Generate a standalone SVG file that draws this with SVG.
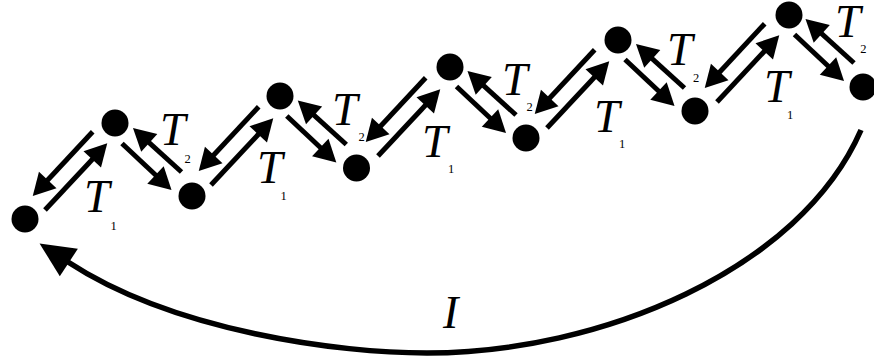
<svg xmlns="http://www.w3.org/2000/svg" width="874" height="358" viewBox="0 0 874 358">
<style>
.node{fill:#000}
.arr{stroke:#000;stroke-width:5;fill:none;marker-end:url(#h)}
.big{stroke:#000;stroke-width:5.5;fill:none;marker-end:url(#hb)}
.T{font-family:"Liberation Serif",serif;font-style:italic;font-size:46px;fill:#000}
.sub{font-family:"Liberation Serif",serif;font-size:12.5px;fill:#000;text-anchor:middle}
</style>
<defs>
<marker id="h" markerUnits="userSpaceOnUse" markerWidth="22" markerHeight="24" refX="14" refY="12" orient="auto" overflow="visible"><path d="M0,0 L22,12 L0,24 z" fill="#000"/></marker>
<marker id="hb" markerUnits="userSpaceOnUse" markerWidth="35" markerHeight="33" refX="1" refY="16.5" orient="auto" overflow="visible"><path d="M0,0 L35,16.5 L0,33 z" fill="#000"/></marker>
</defs>
<rect width="874" height="358" fill="#fff"/>
<g id="connectors">
<g transform="translate(70,171)"><path class="arr" d="M-25,39 L31.8,-21.8"/><path class="arr" d="M22.7,-39.3 L-31.8,19.2"/></g>
<g transform="translate(236,146)"><path class="arr" d="M-25,39 L31.8,-21.8"/><path class="arr" d="M22.7,-39.3 L-31.8,19.2"/></g>
<g transform="translate(403,117)"><path class="arr" d="M-25,39 L31.8,-21.8"/><path class="arr" d="M22.7,-39.3 L-31.8,19.2"/></g>
<g transform="translate(572,89)"><path class="arr" d="M-25,39 L31.8,-21.8"/><path class="arr" d="M22.7,-39.3 L-31.8,19.2"/></g>
<g transform="translate(742,63)"><path class="arr" d="M-25,39 L31.8,-21.8"/><path class="arr" d="M22.7,-39.3 L-31.8,19.2"/></g>
<g transform="translate(153.5,159.5)"><path class="arr" d="M-31.5,-16 L12.2,25"/><path class="arr" d="M28,12.5 L-14.6,-26.1"/></g>
<g transform="translate(318.3,132)"><path class="arr" d="M-31.5,-16 L12.2,25"/><path class="arr" d="M28,12.5 L-14.6,-26.1"/></g>
<g transform="translate(488,102.5)"><path class="arr" d="M-31.5,-16 L12.2,25"/><path class="arr" d="M28,12.5 L-14.6,-26.1"/></g>
<g transform="translate(656.5,75.5)"><path class="arr" d="M-31.5,-16 L12.2,25"/><path class="arr" d="M28,12.5 L-14.6,-26.1"/></g>
<g transform="translate(826,50.5)"><path class="arr" d="M-31.5,-16 L12.2,25"/><path class="arr" d="M28,12.5 L-14.6,-26.1"/></g>
<path class="big" d="M861,130 C800,270 600,353 427,353 C340,353 175,332 68,262"/>
</g>
<g id="labels">
<text class="T" x="84" y="212">T</text><text class="sub" x="113.5" y="230">1</text>
<text class="T" x="257" y="183">T</text><text class="sub" x="283.5" y="200">1</text>
<text class="T" x="422" y="157">T</text><text class="sub" x="451" y="172.5">1</text>
<text class="T" x="594" y="132">T</text><text class="sub" x="622" y="148">1</text>
<text class="T" x="764" y="102">T</text><text class="sub" x="790" y="119">1</text>
<text class="T" x="160" y="145">T</text><text class="sub" x="187.5" y="163">2</text>
<text class="T" x="332" y="125">T</text><text class="sub" x="361.5" y="140.5">2</text>
<text class="T" x="502" y="95">T</text><text class="sub" x="529.5" y="110.5">2</text>
<text class="T" x="667" y="65">T</text><text class="sub" x="696" y="82">2</text>
<text class="T" x="835" y="37">T</text><text class="sub" x="863.3" y="53">2</text>
<text class="T" x="443" y="328">I</text>
</g>
<g id="nA"><circle class="node" cx="25" cy="219" r="13.5"/></g>
<g id="nB"><circle class="node" cx="115" cy="123" r="13.5"/></g>
<g id="nC"><circle class="node" cx="192" cy="196" r="13.5"/></g>
<g id="nD"><circle class="node" cx="280" cy="96" r="13.5"/></g>
<g id="nE"><circle class="node" cx="356.5" cy="168" r="13.5"/></g>
<g id="nF"><circle class="node" cx="450" cy="67" r="13.5"/></g>
<g id="nG"><circle class="node" cx="526" cy="138" r="13.5"/></g>
<g id="nH"><circle class="node" cx="618" cy="40" r="13.5"/></g>
<g id="nI"><circle class="node" cx="695" cy="111" r="13.5"/></g>
<g id="nJ"><circle class="node" cx="789" cy="15" r="13.5"/></g>
<g id="nK"><circle class="node" cx="863" cy="87" r="13.5"/></g>
</svg>
